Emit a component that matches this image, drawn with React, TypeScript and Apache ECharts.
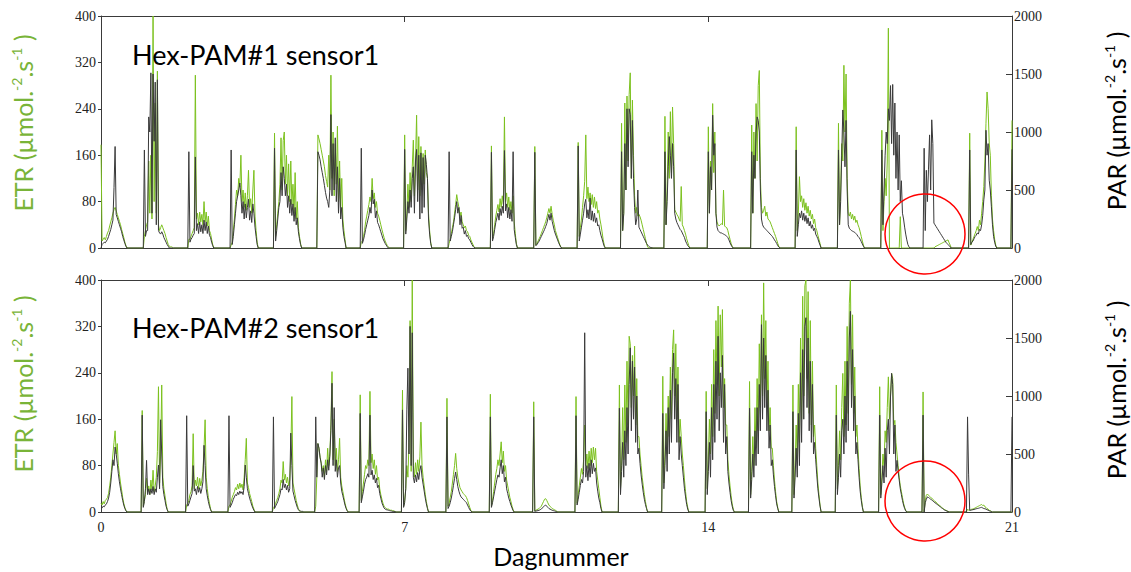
import React, { useEffect, useRef } from "react";
import * as echarts from "echarts";

// ---------- axis ticks ----------
const dayTicks = [0, 7, 14, 21];
const etrTicks = [0, 80, 160, 240, 320, 400];
const parTicks = [0, 500, 1000, 1500, 2000];

// sampling step (days) inside each daylight block
const STEP = 0.025;

// ---------- Hex-PAM#1 sensor1 ----------
const topStarts = [0, 0.975, 2.0, 2.975, 3.975, 4.975, 5.975, 6.975, 8.0, 8.975, 9.975, 10.975, 11.975, 12.975, 13.975, 14.975, 16.0, 16.975, 17.975, 18.95, 20.0, 20.975];
const topEtr = [
  [178,12,15,18,14,20,26,30,38,45,52,60,66,70,64,58,52,46,40,32,25,18,10,4,0],
  [0,20,30,40,45,150,60,160,50,400,80,250,60,305,40,30,35,40,35,30,25,18,12,6,3,2,2,1,0],
  [0,15,15,20,25,30,35,298,50,60,40,62,45,58,40,80,45,62,38,55,30,25,15,6,0],
  [0,5,10,30,50,75,100,90,120,105,160,80,100,70,95,65,90,134,70,85,60,100,134,55,30,10,0],
  [0,198,20,40,60,80,110,190,100,185,200,110,160,90,145,80,150,75,110,60,130,50,80,35,20,8,0],
  [0,195,188,180,170,160,150,140,125,115,105,160,100,298,120,200,90,180,110,210,80,150,70,120,50,30,15,0],
  [0,10,12,20,30,45,55,65,75,88,80,120,85,95,70,80,60,55,48,40,32,25,18,12,8,4,2,0],
  [0,195,30,60,110,70,130,80,140,186,90,150,229,100,192,90,175,100,163,110,169,130,120,60,30,10,0],
  [0,8,15,25,35,45,60,75,92,80,70,55,62,45,40,35,38,30,28,22,20,14,10,6,2,0],
  [0,176,15,25,40,55,65,75,62,85,70,90,75,226,80,95,70,88,65,80,60,90,45,25,8,0],
  [0,175,5,8,12,16,20,25,30,35,40,45,52,60,68,60,72,58,48,40,30,24,18,12,6,2,0],
  [0,182,20,35,50,70,90,115,195,85,105,80,95,75,92,70,88,68,80,60,65,50,40,28,15,5,0],
  [0,215,30,60,250,100,262,150,265,302,120,255,160,90,60,70,55,58,54,48,40,32,24,16,8,2,0,0,0,0,0],
  [0,227,40,100,200,120,235,130,243,180,66,62,58,55,50,46,106,40,36,30,24,16,10,4,0],
  [0,209,60,150,100,249,130,200,60,45,40,38,40,42,40,100,38,36,35,30,22,15,8,3,0],
  [0,212,60,200,120,249,150,280,306,120,70,60,65,72,55,62,50,48,45,40,35,30,25,20,14,8,3,0],
  [0,209,30,60,123,80,90,70,85,65,78,60,72,55,65,50,58,42,50,35,30,22,15,8,0],
  [0,215,40,100,180,150,315,200,300,120,60,55,62,50,58,48,55,44,48,40,35,28,20,12,5,0],
  [0,203,30,80,120,90,150,379,0,0,0,0,0,0,0,0,0,0,54,0,0,0,0,0,0,0,0,0],
  [0,0,0,0,0,0,0,0,0,0,0,2,3,4,5,6,7,8,9,10,11,12,13,14,9,5,0],
  [0,198,5,10,15,20,25,30,37,30,48,40,60,80,106,150,215,269,240,181,160,90,50,30,15,5,0],
  [0,220],
];
const topPar = [
  [0,30,40,50,45,60,75,100,130,160,200,240,520,875,290,260,230,200,170,140,100,70,40,15,0],
  [0,845,100,150,150,1130,1000,1510,300,1500,920,1430,200,1450,150,130,120,140,120,90,70,50,30,15,0,0,0,0,0],
  [0,830,50,75,90,110,125,785,150,210,125,225,140,200,125,240,150,225,125,190,110,90,50,20,0],
  [0,845,30,100,200,300,400,450,500,560,450,300,400,250,380,260,350,420,240,320,220,380,300,180,100,30,0],
  [0,860,60,150,250,350,400,650,450,700,600,450,550,350,450,300,420,280,380,230,350,200,260,140,80,30,0],
  [0,830,800,760,700,650,600,540,480,430,400,350,500,1150,450,900,500,950,400,700,300,600,250,350,180,100,50,0],
  [0,860,40,70,110,160,200,240,280,350,300,500,380,420,260,320,220,200,170,140,110,80,60,40,25,10,0,0],
  [0,850,120,250,400,300,500,350,600,700,300,750,850,400,800,250,820,300,780,350,800,720,600,250,120,40,0],
  [0,830,60,100,140,200,260,330,400,300,350,200,280,170,180,120,150,100,110,80,70,50,30,15,5,0],
  [0,825,60,100,160,220,260,300,240,340,280,360,300,840,320,380,260,350,250,330,230,830,160,90,30,0],
  [0,825,20,30,45,60,80,100,120,140,160,185,210,250,290,240,300,230,190,150,120,95,70,45,25,5,0],
  [0,880,60,120,180,240,300,380,420,260,330,250,430,240,320,230,300,220,260,190,200,150,110,80,45,15,0],
  [0,830,150,300,900,500,1200,700,1200,1150,600,1100,600,350,200,250,500,180,160,140,120,100,80,60,40,25,15,8,4,2,0],
  [0,830,200,400,700,960,800,600,900,700,300,250,220,200,180,160,150,130,110,90,60,40,20,10,0],
  [0,830,300,700,500,1145,800,900,300,180,150,140,130,130,125,120,115,110,100,90,70,45,25,10,0],
  [0,830,300,800,600,1000,1130,1100,1000,500,250,200,180,170,160,150,140,130,120,110,100,85,70,55,40,20,8,0],
  [0,845,100,200,300,260,320,240,300,230,280,210,260,190,230,170,200,150,170,120,100,80,50,25,0],
  [0,845,200,400,800,1190,1000,700,1100,500,200,170,160,150,145,140,135,125,115,100,90,75,55,35,15,0],
  [0,845,200,500,800,1000,900,1200,1100,1400,900,1410,800,1250,600,1000,500,975,400,580,300,250,180,120,70,30,10,0],
  [0,860,150,670,400,680,975,500,1105,900,215,200,185,170,155,140,125,110,95,80,65,50,40,30,20,10,0],
  [0,845,30,50,60,80,100,110,130,120,160,150,200,280,415,500,1015,800,900,585,500,355,200,100,50,15,0],
  [0,850],
];

// ---------- Hex-PAM#2 sensor1 ----------
const botStarts = [0, 0.925, 1.95, 2.925, 3.95, 4.925, 5.95, 6.925, 7.95, 8.95, 9.95, 10.925, 11.925, 12.925, 13.925, 14.925, 15.925, 16.925, 17.925, 18.925, 19.95, 20.975];
const botEtr = [
  [15,12,18,14,20,22,25,32,45,60,80,100,120,140,100,118,80,65,50,38,25,15,8,3,0],
  [0,175,10,20,30,58,35,45,30,55,38,72,35,45,60,104,216,50,100,219,60,40,28,15,5,0],
  [0,12,15,20,30,35,45,135,40,55,45,60,40,58,45,55,70,110,159,60,40,25,15,6,0],
  [0,10,12,18,25,30,35,42,38,48,40,50,42,48,38,60,90,127,50,42,32,25,18,10,5,0],
  [0,8,10,15,20,25,32,40,55,50,87,55,65,50,60,45,55,100,199,50,40,30,20,12,6,2,0,0,0,0],
  [0,10,60,118,110,95,85,70,80,60,90,70,110,80,100,150,242,90,160,80,110,70,90,127,60,45,35,25,15,8,3,0],
  [0,202,20,35,50,65,80,75,90,80,208,85,100,75,90,65,80,55,60,40,30,22,15,10,8,6,5,5,4,3,3,2,2,1,0],
  [0,210,10,20,40,80,60,120,330,70,400,80,60,85,65,90,70,95,155,80,60,45,30,18,8,0],
  [0,196,10,15,25,35,50,65,80,101,75,60,50,42,38,35,32,30,28,25,20,14,8,3,0],
  [0,203,10,20,35,50,65,75,90,80,100,121,85,105,70,80,55,45,35,25,18,10,4,0],
  [0,190,2,3,4,5,6,8,10,14,18,22,23,20,16,12,10,8,6,5,4,3,2,0],
  [0,199,15,30,45,60,75,65,90,150,80,100,75,105,80,110,85,112,90,110,70,55,40,25,10,0],
  [0,219,40,80,180,90,219,120,260,150,303,290,180,270,200,286,150,230,130,130,100,80,60,45,30,18,8,0],
  [0,234,50,100,170,100,200,130,250,160,280,314,200,290,160,250,120,160,130,100,80,55,35,18,8,0],
  [0,208,40,90,160,100,220,130,280,170,330,220,355,200,340,250,349,180,230,150,150,90,65,45,28,14,5,0],
  [0,225,30,70,130,80,180,110,230,140,290,180,340,200,395,230,330,180,260,140,180,110,110,80,55,35,18,8,0],
  [0,219,30,80,150,90,220,120,300,160,372,200,390,400,230,380,170,330,150,260,130,150,110,80,50,30,12,0],
  [0,219,40,80,140,90,180,239,130,260,150,320,170,360,400,220,340,170,250,130,150,110,75,45,25,10,0],
  [0,216,30,60,100,80,140,120,180,233,160,200,239,230,150,158,120,100,80,60,45,35,25,15,8,3,0],
  [0,207,0,20,29,31,29,27,25,24,22,20,18,17,15,13,12,10,8,7,5,4,3,2,1,0],
  [0,5,3,3,4,5,5,6,7,8,9,10,11,12,13,11,12,9,8,6,5,3,2,1,0],
  [0,0],
];
const botPar = [
  [40,35,50,45,60,70,90,120,170,250,350,450,400,560,500,420,330,260,200,150,100,60,30,10,0],
  [0,835,40,90,200,445,150,200,150,200,160,220,150,200,170,300,405,200,795,500,220,150,100,50,20,0],
  [0,830,50,70,100,130,160,400,180,200,150,220,170,210,160,200,260,575,400,200,140,90,50,20,0],
  [0,830,40,60,80,110,130,150,140,170,150,180,160,175,150,220,405,300,200,160,120,90,60,35,15,0],
  [0,820,30,50,70,90,120,150,200,190,280,210,240,190,230,170,200,680,400,180,140,100,70,40,20,10,8,5,5,0],
  [0,820,300,590,550,470,420,300,380,280,400,320,450,360,480,700,1110,400,900,350,450,300,380,400,250,180,140,100,60,30,10,0],
  [0,850,80,130,180,240,280,300,330,300,835,320,360,280,320,250,290,210,230,160,120,80,55,35,25,20,18,15,12,10,8,5,5,3,0],
  [0,880,40,80,200,880,1240,500,1600,400,1545,300,250,320,260,340,280,360,400,300,240,180,120,70,30,0],
  [0,820,30,50,80,120,170,230,290,345,280,220,180,150,130,120,110,100,90,80,60,40,20,8,0],
  [0,820,40,80,130,180,230,280,320,300,380,450,330,400,260,300,200,160,120,90,60,35,12,0],
  [0,820,5,8,10,12,15,20,25,35,45,55,60,50,40,30,25,20,15,12,10,6,4,0],
  [0,830,60,110,170,230,280,250,350,1545,300,400,270,420,300,450,330,420,350,380,250,180,120,80,30,0],
  [0,895,150,350,600,300,700,400,900,500,1100,1415,700,1300,800,1250,600,1000,500,550,420,320,240,170,110,65,30,0],
  [0,850,200,400,700,350,900,500,1050,600,1200,1370,800,1150,600,1100,450,650,500,400,300,200,130,65,25,0],
  [0,865,150,350,600,300,900,450,1100,600,1300,800,1515,700,1200,900,1350,600,1100,500,650,350,250,170,100,50,15,0],
  [0,895,120,280,500,300,700,400,900,500,1100,700,1615,800,1500,900,1350,700,1050,550,750,400,450,320,220,140,70,30,0],
  [0,865,120,300,550,300,850,400,1200,600,1400,800,1600,1675,900,1500,700,1300,600,1100,500,600,450,320,200,120,50,0],
  [0,835,150,300,500,300,700,800,500,1000,600,1300,700,1500,1730,900,1400,700,1000,500,600,450,300,180,100,40,0],
  [0,835,120,250,400,250,550,300,700,800,500,1000,1195,1100,500,750,350,445,350,275,200,150,100,60,30,10,0],
  [0,835,0,80,110,130,125,118,110,104,96,88,80,73,66,58,50,44,36,30,22,16,12,8,4,0],
  [0,820,320,15,15,18,20,22,25,28,30,32,35,38,40,35,30,28,25,20,15,10,8,4,0],
  [0,820],
];

const GREEN = "#7cc11f";
const GREEN_TXT = "#79b438";
const GRAY = "#3a3a3a";
const AXIS = "#3a3a3a";
const TICK_FONT = "'Liberation Serif', 'DejaVu Serif', serif";
const TITLE_FONT = "Lato, 'Open Sans', sans-serif";

function build(starts: number[], days: number[][]): number[][] {
  const out: number[][] = [];
  starts.forEach((s, i) => {
    days[i].forEach((v, k) => {
      out.push([Math.round((s + k * STEP) * 1000) / 1000, v]);
    });
  });
  return out;
}

function unitTitle(label: string, color: string, x: number, y: number) {
  return {
    type: "text",
    x,
    y,
    rotation: Math.PI / 2,
    z: 10,
    style: {
      text: `{m|${label} (µmol.}{s|-2}{m|.s}{s|-1}{m| )}`,
      align: "center",
      verticalAlign: "middle",
      rich: {
        m: { fontFamily: TITLE_FONT, fontSize: 25, fill: color, lineHeight: 26, verticalAlign: "bottom" },
        s: { fontFamily: TITLE_FONT, fontSize: 14, fill: color, lineHeight: 14, verticalAlign: "top" },
      },
    },
  };
}

export default function App() {
  const ref = useRef<HTMLDivElement>(null);

  useEffect(() => {
    document.body.style.margin = "0";
    if (!ref.current) return;
    const chart = echarts.init(ref.current, undefined, { renderer: "svg" });

    const lineStyle = { color: AXIS, width: 1 };
    const xMin = dayTicks[0];
    const xMax = dayTicks[dayTicks.length - 1];
    const xInt = dayTicks[1] - dayTicks[0];
    const plain = (v: number) => String(v);
    const grids = [
      { left: 101, top: 16, width: 911, height: 232 },
      { left: 101, top: 280, width: 911, height: 232 },
    ];

    const xAxis: any[] = [];
    const yAxis: any[] = [];
    [0, 1].forEach((g) => {
      xAxis.push({
        type: "value", gridIndex: g, min: xMin, max: xMax, interval: xInt, position: "bottom",
        axisLine: { show: true, onZero: false, lineStyle },
        axisTick: { show: false },
        splitLine: { show: false },
        axisLabel: { show: g === 1, fontFamily: TICK_FONT, fontSize: 14, color: "#222", margin: 8, formatter: plain },
      });
      xAxis.push({
        type: "value", gridIndex: g, min: xMin, max: xMax, interval: xInt, position: "top",
        axisLine: { show: true, onZero: false, lineStyle },
        axisTick: { show: true, inside: true, length: 6, lineStyle },
        splitLine: { show: false },
        axisLabel: { show: false },
      });
      yAxis.push({
        type: "value", gridIndex: g, min: etrTicks[0], max: etrTicks[etrTicks.length - 1],
        interval: etrTicks[1] - etrTicks[0], position: "left",
        axisLine: { show: true, onZero: false, lineStyle },
        axisTick: { show: true, length: 3, lineStyle },
        splitLine: { show: false },
        axisLabel: { fontFamily: TICK_FONT, fontSize: 14, color: "#222", margin: 5, formatter: plain },
      });
      yAxis.push({
        type: "value", gridIndex: g, min: parTicks[0], max: parTicks[parTicks.length - 1],
        interval: parTicks[1] - parTicks[0], position: "right",
        axisLine: { show: true, onZero: false, lineStyle },
        axisTick: { show: true, inside: true, length: 6, lineStyle },
        splitLine: { show: false },
        axisLabel: { fontFamily: TICK_FONT, fontSize: 14, color: "#222", margin: 2, formatter: plain },
      });
    });

    const mk = (data: number[][], xi: number, yi: number, color: string, name: string) => ({
      name, type: "line", xAxisIndex: xi, yAxisIndex: yi, data,
      showSymbol: false, symbol: "none", silent: true,
      lineStyle: { color, width: 1 },
      z: color === GRAY ? 3 : 2,
    });

    chart.setOption({
      animation: false,
      backgroundColor: "#ffffff",
      grid: grids,
      xAxis,
      yAxis,
      series: [
        mk(build(topStarts, topEtr), 0, 0, GREEN, "ETR 1"),
        mk(build(topStarts, topPar), 0, 1, GRAY, "PAR 1"),
        mk(build(botStarts, botEtr), 2, 2, GREEN, "ETR 2"),
        mk(build(botStarts, botPar), 2, 3, GRAY, "PAR 2"),
      ],
      graphic: [
        { type: "text", x: 132, y: 54, z: 10, style: { text: "Hex-PAM#1 sensor1", fontFamily: TITLE_FONT, fontSize: 27, fill: "#000", align: "left", verticalAlign: "middle" } },
        { type: "text", x: 132, y: 327, z: 10, style: { text: "Hex-PAM#2 sensor1", fontFamily: TITLE_FONT, fontSize: 27, fill: "#000", align: "left", verticalAlign: "middle" } },
        { type: "text", x: 561, y: 556, z: 10, style: { text: "Dagnummer", fontFamily: TITLE_FONT, fontSize: 25, fill: "#000", align: "center", verticalAlign: "middle" } },
        unitTitle("ETR", GREEN_TXT, 22, 123),
        unitTitle("ETR", GREEN_TXT, 22, 384),
        unitTitle("PAR", "#000", 1115, 121),
        unitTitle("PAR", "#000", 1115, 390),
        { type: "circle", z: 20, shape: { cx: 925, cy: 234, r: 40 }, style: { fill: "none", stroke: "#ff0000", lineWidth: 1.5 } },
        { type: "circle", z: 20, shape: { cx: 925, cy: 501, r: 40 }, style: { fill: "none", stroke: "#ff0000", lineWidth: 1.5 } },
      ],
    });

    return () => chart.dispose();
  }, []);

  return <div ref={ref} style={{ width: 1131, height: 572 }} />;
}
